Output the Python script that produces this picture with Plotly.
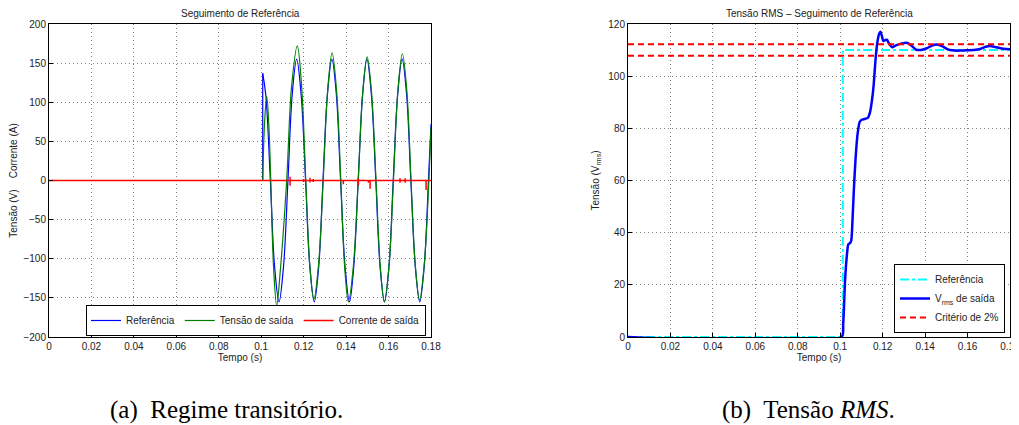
import plotly.graph_objects as go

# ---------------- (a) Regime transitório ----------------
ref_pre_t = [0.0, 0.1007, 0.1007]
ref_pre_v = [0, 0, 137]
ref_t = [0.1007, 0.1022, 0.1043, 0.1063, 0.1084, 0.1105, 0.1126, 0.1146, 0.1167, 0.1188,
         0.1209, 0.1229, 0.1250, 0.1271, 0.1291, 0.1312, 0.1333, 0.1354, 0.1374, 0.1395,
         0.1416, 0.1436, 0.1457, 0.1478, 0.1498, 0.1519, 0.1540, 0.1560, 0.1581, 0.1602,
         0.1622, 0.1643, 0.1664, 0.1685, 0.1705, 0.1726, 0.1747, 0.1768, 0.1788, 0.1800]
ref_v = [137, 108, 0, -110, -155, -110, 0, 110, 155, 110,
         0, -110, -155, -110, 0, 110, 155, 110, 0, -110,
         -155, -110, 0, 110, 155, 110, 0, -110, -155, -110,
         0, 110, 155, 110, 0, -110, -155, -110, 0, 72]

out_pre_t = [0.0, 0.1007]
out_pre_v = [0, 0]
out_t = [0.1007, 0.1016, 0.1026, 0.1036, 0.1045, 0.1058, 0.1073, 0.1090, 0.1120, 0.1143,
         0.1170, 0.1190, 0.1210, 0.1229, 0.1248, 0.1270, 0.1292, 0.1313, 0.1334, 0.1355,
         0.1375, 0.1393, 0.1411, 0.1434, 0.1457, 0.1478, 0.1499, 0.1520, 0.1541, 0.1561,
         0.1580, 0.1602, 0.1623, 0.1644, 0.1665, 0.1686, 0.1706, 0.1726, 0.1746, 0.1768,
         0.1790, 0.1800]
out_v = [0, 75, 108, 70, 0, -110, -160, -115, 0, 120,
         172, 122, 0, -108, -152, -108, 0, 115, 163, 115,
         0, -110, -155, -110, 0, 112, 158, 112, 0, -110,
         -155, -110, 0, 115, 162, 115, 0, -108, -153, -108,
         0, 68]

cur_spike_t = [0.1136, 0.1200, 0.1230, 0.1245, 0.1387, 0.1458, 0.1505, 0.1513, 0.1654, 0.1678, 0.1777]
cur_spike_hi = [4.7, 2.0, 3.4, 2.0, 0.0, 3.0, 1.0, 0.0, 3.0, 3.0, 0.0]
cur_spike_lo = [-6.8, -2.0, -2.5, -2.0, -4.7, -6.0, -3.0, -10.6, -3.0, -3.0, -12.3]
t_end = 0.18

x_ticks = [0, 0.02, 0.04, 0.06, 0.08, 0.1, 0.12, 0.14, 0.16, 0.18]
x_tick_labels = ["0", "0.02", "0.04", "0.06", "0.08", "0.1", "0.12", "0.14", "0.16", "0.18"]
ya_ticks = [-200, -150, -100, -50, 0, 50, 100, 150, 200]

# ---------------- (b) Tensão RMS ----------------
rms_ref_t = [0.0, 0.1012, 0.1012, 0.18]
rms_ref_v = [0, 0, 110, 110]
crit_upper = 112.2
crit_lower = 107.8
rms_t = [0.0, 0.1007, 0.1014, 0.1023, 0.1031, 0.1038, 0.1046, 0.1052, 0.1058, 0.1064,
         0.1072, 0.1082, 0.1092, 0.1101, 0.1115, 0.1130, 0.1140, 0.1150, 0.1158, 0.1166,
         0.1175, 0.1183, 0.1190, 0.1196, 0.1203, 0.1212, 0.1220, 0.1230, 0.1245, 0.1262,
         0.1290, 0.1313, 0.1335, 0.1355, 0.1370, 0.1390, 0.1408, 0.1430, 0.1455, 0.1480,
         0.1500, 0.1517, 0.1540, 0.1565, 0.1600, 0.1630, 0.1659, 0.1685, 0.1706, 0.1730,
         0.1761, 0.1780, 0.1800]
rms_v = [0, 0, 5, 22, 31, 35.5, 36, 37, 45, 56,
         68, 78, 82.5, 83.3, 83.6, 84, 86, 91, 97, 106,
         113, 116.2, 117, 115.5, 113.5, 113.8, 114.0, 112.5, 111.1, 111.8,
         112.5, 112.8, 111.8, 110.3, 110.0, 110.2, 110.7, 111.6, 112.1, 111.5,
         110.6, 110.0, 109.8, 109.8, 109.9, 110.0, 110.4, 111.3, 111.6, 111.2,
         110.6, 110.4, 110.3]
yb_ticks = [0, 20, 40, 60, 80, 100, 120]

# build current path from spike table
cur_t = [0.0]
cur_v = [0.0]
for t, hi, lo in zip(cur_spike_t, cur_spike_hi, cur_spike_lo):
    cur_t += [t, t, t, t]
    cur_v += [0.0, hi, lo, 0.0]
cur_t.append(t_end)
cur_v.append(0.0)

BLUE = "#0000FF"
GREEN = "#008000"
RED = "#FF0000"
CYAN = "#00FFFF"
FONT = "Liberation Sans, Arial, sans-serif"
SERIF = "Liberation Serif, Times New Roman, serif"

fig = go.Figure()

# left traces
fig.add_trace(go.Scatter(x=ref_pre_t, y=ref_pre_v, mode="lines", line=dict(color=BLUE, width=1.2),
                         legendgroup="ref", showlegend=False, xaxis="x", yaxis="y", hoverinfo="skip"))
fig.add_trace(go.Scatter(x=ref_t, y=ref_v, mode="lines", name="Referência",
                         line=dict(color=BLUE, width=1.2, shape="spline", smoothing=1.0),
                         legendgroup="ref", xaxis="x", yaxis="y", legend="legend"))
fig.add_trace(go.Scatter(x=out_pre_t, y=out_pre_v, mode="lines", line=dict(color=GREEN, width=1.2),
                         legendgroup="out", showlegend=False, xaxis="x", yaxis="y", hoverinfo="skip"))
fig.add_trace(go.Scatter(x=out_t, y=out_v, mode="lines", name="Tensão de saída",
                         line=dict(color=GREEN, width=1.2, shape="spline", smoothing=1.0),
                         legendgroup="out", xaxis="x", yaxis="y", legend="legend"))
fig.add_trace(go.Scatter(x=cur_t, y=cur_v, mode="lines", name="Corrente de saída",
                         line=dict(color=RED, width=1.5), xaxis="x", yaxis="y", legend="legend"))

# right traces
fig.add_trace(go.Scatter(x=rms_ref_t, y=rms_ref_v, mode="lines", name="Referência",
                         line=dict(color=CYAN, width=2, dash="dashdot"),
                         xaxis="x2", yaxis="y2", legend="legend2"))
fig.add_trace(go.Scatter(x=rms_t, y=rms_v, mode="lines", name="V<sub>rms</sub> de saída",
                         line=dict(color=BLUE, width=2.5, shape="spline", smoothing=0.6),
                         xaxis="x2", yaxis="y2", legend="legend2"))
fig.add_trace(go.Scatter(x=[0, t_end], y=[crit_upper, crit_upper], mode="lines", name="Critério de 2%",
                         line=dict(color=RED, width=2, dash="6px,4px"),
                         legendgroup="crit", xaxis="x2", yaxis="y2", legend="legend2"))
fig.add_trace(go.Scatter(x=[0, t_end], y=[crit_lower, crit_lower], mode="lines", name="Critério de 2%",
                         line=dict(color=RED, width=2, dash="6px,4px"), showlegend=False,
                         legendgroup="crit", xaxis="x2", yaxis="y2", legend="legend2"))

# page offset (default body margin of the html page)
OFF = 8
W, H = 1019 - OFF, 425 - OFF
L1, R1 = 49 - OFF, 431 - OFF
L2, R2 = 628 - OFF, 1010 - OFF
TOP, BOT = 24 - OFF, 337 - OFF
ML, MR, MT, MB = L1, W - R2, TOP, H - BOT
IW = W - ML - MR
IH = BOT - TOP


def px(xp):
    return (xp - OFF - ML) / IW


def py(yp):
    return (BOT - (yp - OFF)) / IH


axis_common = dict(showline=True, linecolor="black", linewidth=1, mirror=True,
                   ticks="inside", ticklen=4, tickcolor="black", automargin=False,
                   showgrid=True, gridcolor="#808080", griddash="1px,3px", gridwidth=1,
                   zeroline=False, tickfont=dict(size=10, color="#222", family=FONT))

fig.update_layout(
    width=W, height=H,
    margin=dict(l=ML, r=MR, t=MT, b=MB, autoexpand=False),
    paper_bgcolor="white", plot_bgcolor="white",
    font=dict(family=FONT, size=10, color="#222"),
    xaxis=dict(domain=[0, (R1 - L1) / IW], range=[0, 0.18], tickvals=x_ticks, ticktext=x_tick_labels,
               ticklabeloverflow="allow",
               title=dict(text="Tempo (s)", standoff=2, font=dict(size=10)), anchor="y", **axis_common),
    yaxis=dict(domain=[0, 1], range=[-200, 200], tickvals=ya_ticks,
               title=dict(text="Tensão (V)    Corrente (A)", standoff=4, font=dict(size=10)),
               anchor="x", **axis_common),
    xaxis2=dict(domain=[(L2 - L1) / IW, 1], range=[0, 0.18], tickvals=x_ticks, ticktext=x_tick_labels,
                ticklabeloverflow="allow",
                title=dict(text="Tempo (s)", standoff=2, font=dict(size=10)), anchor="y2", **axis_common),
    yaxis2=dict(domain=[0, 1], range=[0, 120], tickvals=yb_ticks,
                title=dict(text="Tensão (V<sub>rms</sub>)", standoff=6, font=dict(size=10)),
                anchor="x2", **axis_common),
    legend=dict(orientation="h", x=px(426), xanchor="right", y=py(336), yanchor="bottom",
                bgcolor="white", bordercolor="black", borderwidth=1,
                font=dict(size=10, color="#222", family=FONT), itemwidth=30, tracegroupgap=0),
    legend2=dict(orientation="v", x=px(1005), xanchor="right", y=py(333), yanchor="bottom",
                 bgcolor="white", bordercolor="black", borderwidth=1,
                 font=dict(size=10, color="#222", family=FONT), itemwidth=30, tracegroupgap=0),
    showlegend=True,
    annotations=[
        dict(text="Seguimento de Referência", x=px(240), y=py(13), xref="paper", yref="paper",
             showarrow=False, font=dict(size=10, color="#222", family=FONT), xanchor="center", yanchor="middle"),
        dict(text="Tensão RMS – Seguimento de Referência", x=px(819), y=py(13),
             xref="paper", yref="paper", showarrow=False, font=dict(size=10, color="#222", family=FONT),
             xanchor="center", yanchor="middle"),
        dict(text="(a)  Regime transitório.", x=px(226), y=py(410), xref="paper", yref="paper",
             showarrow=False, font=dict(size=25, color="black", family=SERIF),
             xanchor="center", yanchor="middle"),
        dict(text="(b)  Tensão <i>RMS</i>.", x=px(808), y=py(410), xref="paper", yref="paper",
             showarrow=False, font=dict(size=25, color="black", family=SERIF),
             xanchor="center", yanchor="middle"),
    ],
)

fig.write_html("out.html")
